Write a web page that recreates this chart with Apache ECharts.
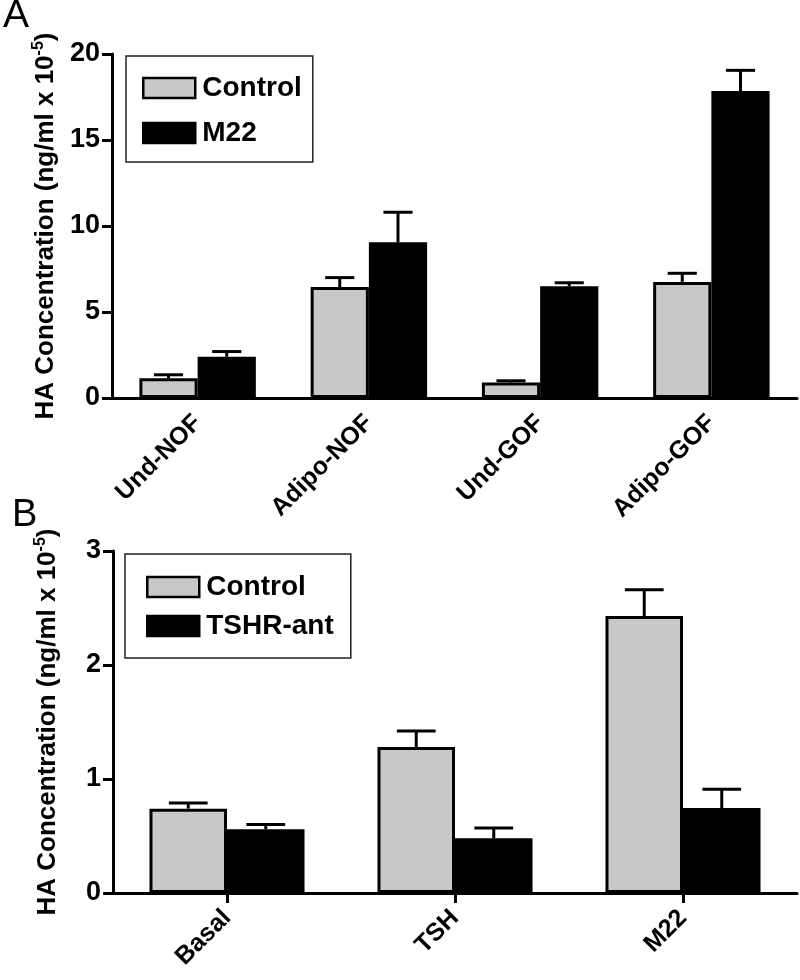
<!DOCTYPE html>
<html>
<head>
<meta charset="utf-8">
<script src="https://cdn.jsdelivr.net/npm/echarts@6/dist/echarts.min.js"></script>
<style>html,body{margin:0;padding:0;background:#fff;}#c{width:800px;height:980px;}</style>
</head>
<body>
<div id="c"></div>
<script>
// ---- Panel A data ----
const catsA = ['Und-NOF', 'Adipo-NOF', 'Und-GOF', 'Adipo-GOF'];
const controlA = [1.15, 6.45, 0.9, 6.75];
const controlAErr = [1.35, 7.0, 1.0, 7.25];
const m22A = [2.4, 9.05, 6.5, 17.85];
const m22AErr = [2.7, 10.8, 6.7, 19.05];
const ticksA = { min: 0, max: 20, interval: 5 };

// ---- Panel B data ----
const catsB = ['Basal', 'TSH', 'M22'];
const controlB = [0.74, 1.28, 2.43];
const controlBErr = [0.79, 1.42, 2.66];
const tshrB = [0.56, 0.48, 0.745];
const tshrBErr = [0.60, 0.57, 0.91];
const ticksB = { min: 0, max: 3, interval: 1 };

const FONT = "'Liberation Sans', Arial, Helvetica, sans-serif";
const GAP = 0.32;
const GRAY = '#c8c8c8';

function errSeries(name, xi, vals, tops, sign) {
  return {
    type: 'custom',
    name: name + ' err',
    xAxisIndex: xi, yAxisIndex: xi,
    z: 5,
    silent: true,
    data: vals.map((v, i) => [i, v, tops[i]]),
    renderItem: function (params, api) {
      const idx = api.value(0);
      const base = api.coord([idx, api.value(1)]);
      const top = api.coord([idx, api.value(2)]);
      const band = api.size([1, 0])[0];
      const bw = band * (1 - GAP) / 2;
      const x = base[0] + sign * bw / 2;
      const cap = bw * 0.5;
      const st = { stroke: '#000', lineWidth: 3 };
      return {
        type: 'group',
        children: [
          { type: 'line', shape: { x1: x, y1: base[1], x2: x, y2: top[1] }, style: st },
          { type: 'line', shape: { x1: x - cap / 2, y1: top[1], x2: x + cap / 2, y2: top[1] }, style: st }
        ]
      };
    }
  };
}

function barSeries(name, xi, vals, color) {
  return {
    type: 'bar', name: name, xAxisIndex: xi, yAxisIndex: xi,
    data: vals, barGap: '0%', barCategoryGap: (GAP * 100) + '%',
    itemStyle: { color: color, borderColor: '#000', borderWidth: 3 },
    z: 3
  };
}

const yName = '{a|HA Concentration (ng/ml x 10}{s|-5}{a|)}';
const nameStyle = {
  rich: {
    a: { fontSize: 26, fontWeight: 'bold', fontFamily: FONT, color: '#000', lineHeight: 30 },
    s: { fontSize: 16, fontWeight: 'bold', fontFamily: FONT, color: '#000', verticalAlign: 'top', lineHeight: 18 }
  }
};

function yAxis(gi, t) {
  return {
    type: 'value', gridIndex: gi, min: t.min, max: t.max, interval: t.interval,
    name: yName, nameLocation: 'middle', nameGap: 50, nameRotate: 90, nameTextStyle: nameStyle,
    splitLine: { show: false },
    axisLine: { show: true, lineStyle: { color: '#000', width: 3 } },
    axisTick: { show: true, length: 10, lineStyle: { color: '#000', width: 3 } },
    axisLabel: { margin: 12, fontSize: 27, fontWeight: 'bold', fontFamily: FONT, color: '#000' }
  };
}

function xAxis(gi, cats, ticks) {
  return {
    type: 'category', gridIndex: gi, data: cats,
    axisLine: { show: true, lineStyle: { color: '#000', width: 3 } },
    axisTick: { show: ticks, alignWithLabel: true, length: 10, lineStyle: { color: '#000', width: 3 } },
    axisLabel: { rotate: 45, margin: 21, fontSize: 25, fontWeight: 'bold', fontFamily: FONT, color: '#000', interval: 0 }
  };
}

function legend(left, top, names, padding, gap) {
  return {
    left: left, top: top, orient: 'vertical',
    data: names,
    itemWidth: 52, itemHeight: 20, itemGap: gap, icon: 'rect',
    padding: padding,
    borderColor: '#222', borderWidth: 1.5,
    itemStyle: { borderColor: '#000', borderWidth: 2.5 },
    textStyle: { fontSize: 28, fontWeight: 'bold', fontFamily: FONT, color: '#000', padding: [0, 0, 0, 2] },
    selectedMode: false
  };
}

const chart = echarts.init(document.getElementById('c'), null, { renderer: 'canvas' });
chart.setOption({
  animation: false,
  backgroundColor: '#fff',
  grid: [
    { left: 112, top: 54, width: 685, height: 344 },
    { left: 113, top: 551, width: 684, height: 342 }
  ],
  xAxis: [xAxis(0, catsA, false), xAxis(1, catsB, true)],
  yAxis: [yAxis(0, ticksA), yAxis(1, ticksB)],
  legend: [
    legend(126, 56, ['Control', 'M22'], [18, 11, 15, 16], 17),
    legend(125, 554, ['Control', 'TSHR-ant'], [19, 17, 18, 21], 11)
  ],
  graphic: [
    { type: 'text', left: 3, top: -3, style: { text: 'A', fontSize: 39, fontFamily: FONT, fill: '#000' } },
    { type: 'text', left: 12, top: 497, style: { text: 'B', fontSize: 38, fontFamily: FONT, fill: '#000' } }
  ],
  series: [
    barSeries('Control', 0, controlA, GRAY),
    barSeries('M22', 0, m22A, '#000'),
    errSeries('Control', 0, controlA, controlAErr, -1),
    errSeries('M22', 0, m22A, m22AErr, 1),
    barSeries('Control', 1, controlB, GRAY),
    barSeries('TSHR-ant', 1, tshrB, '#000'),
    errSeries('Control', 1, controlB, controlBErr, -1),
    errSeries('TSHR-ant', 1, tshrB, tshrBErr, 1)
  ]
});
</script>
</body>
</html>
